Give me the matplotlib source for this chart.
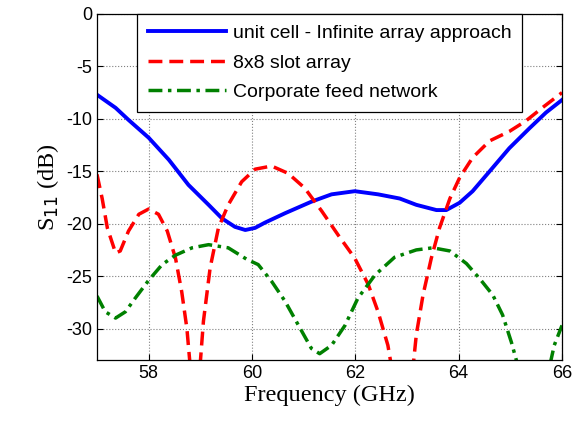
import numpy as np
import matplotlib
matplotlib.use('Agg')
import matplotlib.pyplot as plt

plt.rcParams['axes.unicode_minus'] = False

# Values (GHz, dB)
f_unit = [57.0, 57.36, 57.61, 58.0, 58.39, 58.77, 59.16, 59.42, 59.67, 59.87,
          60.06, 60.25, 60.64, 61.15, 61.54, 61.99, 62.44, 62.86, 63.18, 63.57,
          63.76, 64.02, 64.27, 64.6, 64.98, 65.37, 65.69, 66.0]
s_unit = [-7.7, -8.95, -10.1, -11.8, -13.9, -16.3, -18.2, -19.5, -20.3, -20.6,
          -20.4, -19.9, -19.0, -17.9, -17.2, -16.9, -17.2, -17.6, -18.2, -18.7,
          -18.7, -18.0, -16.9, -15.0, -12.8, -10.9, -9.4, -8.2]

f_slot = [57.0, 57.1, 57.2, 57.36, 57.45, 57.61, 57.81, 58.0, 58.19, 58.36,
          58.52, 58.64, 58.74, 58.82, 58.98, 59.06, 59.19, 59.35, 59.54, 59.8,
          60.06, 60.38, 60.7, 61.02, 61.35, 61.67, 61.99, 62.25, 62.44, 62.63,
          62.73, 63.1, 63.18, 63.31, 63.47, 63.63, 63.83, 64.02, 64.27, 64.6,
          64.98, 65.3, 65.63, 66.0]
s_slot = [-15.3, -17.6, -20.4, -22.8, -22.6, -20.7, -19.1, -18.6, -19.1, -20.7,
          -23.3, -26.5, -30.0, -34.5, -34.5, -29.3, -24.2, -20.4, -18.2, -16.0,
          -14.8, -14.5, -15.2, -16.6, -18.8, -21.1, -23.3, -25.8, -28.4, -31.6,
          -34.5, -34.5, -30.6, -26.8, -23.3, -20.4, -17.6, -15.6, -13.7, -12.1,
          -11.2, -10.2, -8.9, -7.5]

f_feed = [57.0, 57.16, 57.36, 57.55, 57.74, 58.0, 58.26, 58.52, 58.84, 59.16,
          59.54, 59.9, 60.12, 60.38, 60.64, 60.9, 61.15, 61.31, 61.54, 61.8,
          62.05, 62.38, 62.76, 63.18, 63.5, 63.83, 64.15, 64.4, 64.66, 64.85,
          65.02, 65.2, 65.72, 65.85, 66.0]
s_feed = [-26.9, -28.4, -29.0, -28.4, -27.1, -25.4, -23.9, -23.0, -22.3, -22.0,
          -22.3, -23.4, -23.9, -25.5, -27.4, -29.7, -31.9, -32.4, -31.6, -29.7,
          -27.1, -24.9, -23.2, -22.5, -22.3, -22.6, -23.8, -25.2, -26.8, -28.7,
          -31.3, -34.5, -34.5, -31.6, -29.7]

labels = ['unit cell - Infinite array approach',
          '8x8 slot array',
          'Corporate feed network']

fig = plt.figure(figsize=(5.79, 4.24), dpi=100)
ax = fig.add_axes([97 / 579, 1 - 360 / 424, 465 / 579, 346 / 424])

ax.plot(f_unit, s_unit, color='#0000ff', lw=2.8, label=labels[0])
ax.plot(f_slot, s_slot, color='#ff0000', lw=2.5, ls=(0, (4, 2)), label=labels[1])
ax.plot(f_feed, s_feed, color='#008000', lw=2.5, ls=(0, (4, 1.6, 1, 1.6)),
        label=labels[2])

ax.set_xlim(57, 66)
ax.set_ylim(-33, 0)
ax.set_xticks([58, 60, 62, 64, 66])
ax.set_yticks([-30, -25, -20, -15, -10, -5, 0])
ax.grid(True, color='#808080', ls=':', lw=0.8)
ax.tick_params(direction='in', top=True, right=True, labelsize=13, length=4)
for lab in ax.get_xticklabels() + ax.get_yticklabels():
    lab.set_family('Liberation Sans')
for sp in ax.spines.values():
    sp.set_linewidth(0.9)

ax.set_xlabel('Frequency (GHz)', family='Liberation Serif', fontsize=17.5, labelpad=2)
ax.set_ylabel(r'S$_{11}$ (dB)', family='Liberation Serif', fontsize=17.5, labelpad=4)

leg = ax.legend(loc='upper right', bbox_to_anchor=(0.914, 1.0), borderaxespad=0,
                fancybox=False, framealpha=1, edgecolor='black',
                prop={'family': 'Liberation Sans', 'size': 14},
                handlelength=4.0, handletextpad=0.35, labelspacing=0.6,
                borderpad=0.55)
leg.get_frame().set_linewidth(0.9)

plt.savefig('out.png', dpi=100)
